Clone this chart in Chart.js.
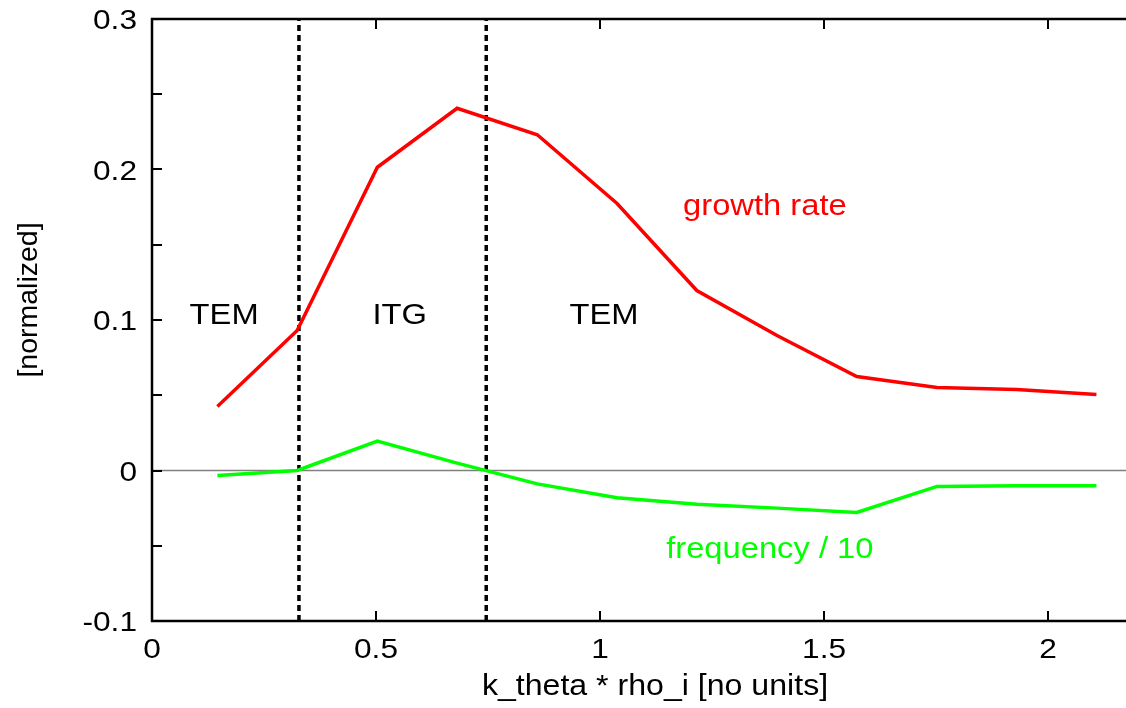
<!DOCTYPE html>
<html lang="en">
<head>
<meta charset="UTF-8">
<title>Growth rate and frequency vs k_theta * rho_i</title>
<script src="https://cdn.jsdelivr.net/npm/chart.js"></script>
<style>
    html, body { margin: 0; padding: 0; background: #fff; overflow: hidden; }
    #wrap { position: relative; width: 1126px; height: 708px; }
</style>
</head>
<body>
<div id="wrap"><canvas id="spectrum" width="1126" height="708"></canvas></div>
<script>
// k_theta * rho_i scan
const kRho = [0.146, 0.324, 0.503, 0.681, 0.860, 1.038, 1.216, 1.395, 1.573, 1.752, 1.930, 2.108];
const growthRate = [0.0425, 0.0930, 0.2015, 0.2407, 0.2231, 0.1774, 0.1196, 0.0897, 0.0625, 0.0551, 0.0538, 0.0505];
const frequency10 = [-0.0033, 0.0000, 0.0195, 0.0049, -0.0089, -0.0181, -0.0224, -0.0250, -0.0279, -0.0106, -0.0102, -0.0102];

// regime boundaries
const boundaries = [0.328, 0.746];

// axis ticks
const xTickValues = [0, 0.5, 1, 1.5, 2];
const xTickLabels = ['0', '0.5', '1', '1.5', '2'];
const yTickValues = [-0.1, 0, 0.1, 0.2, 0.3];
const yTickLabels = ['-0.1', '0', '0.1', '0.2', '0.3'];
const yMinorStep = 0.05;

// text placed in data coordinates (y is the baseline)
const regionLabels = [
    { text: 'TEM', x: 0.161, y: 0.0976, color: '#000' },
    { text: 'ITG', x: 0.553, y: 0.0976, color: '#000' },
    { text: 'TEM', x: 1.009, y: 0.0976, color: '#000' },
    { text: 'growth rate', x: 1.368, y: 0.1695, color: '#ff0000' },
    { text: 'frequency / 10', x: 1.379, y: -0.0580, color: '#00ff00' }
];

const FONT = '"Liberation Sans", Arial, sans-serif';
const TEXT_STRETCH = 1.09;
const TICK_STRETCH = 1.13;

const toPoints = (xs, ys) => xs.map((x, i) => ({ x: x, y: ys[i] }));

const boundarySets = boundaries.map(b => ({
    data: [{ x: b, y: -0.1 }, { x: b, y: 0.3 }],
    borderColor: '#000',
    borderWidth: 3.5,
    borderDash: [6, 4],
    pointRadius: 0
}));

// text slightly widened, like the original postscript fonts
function wideText(ctx, text, x, y, sx, align) {
    ctx.save();
    ctx.translate(x, y);
    ctx.scale(sx, 1);
    ctx.textAlign = align;
    ctx.fillText(text, 0, 0);
    ctx.restore();
}

// zero line, frame, inward ticks, labels
const decor = {
    id: 'decor',
    beforeDatasetsDraw(chart) {
        const { ctx, chartArea: a, scales: { y } } = chart;
        const y0 = y.getPixelForValue(0);
        ctx.save();
        ctx.strokeStyle = '#808080';
        ctx.lineWidth = 1.5;
        ctx.beginPath();
        ctx.moveTo(a.left, y0);
        ctx.lineTo(a.right, y0);
        ctx.stroke();
        ctx.restore();
    },
    afterDraw(chart) {
        const { ctx, chartArea: a, scales: { x, y } } = chart;
        ctx.save();
        ctx.strokeStyle = '#000';
        ctx.lineWidth = 2.5;
        ctx.beginPath();
        ctx.moveTo(a.right, a.top);
        ctx.lineTo(a.left, a.top);
        ctx.lineTo(a.left, a.bottom);
        ctx.lineTo(a.right, a.bottom);
        ctx.stroke();
        ctx.lineWidth = 2;
        ctx.beginPath();
        // left ticks every 0.05
        for (let v = -0.1; v <= 0.3001; v += yMinorStep) {
            const py = Math.round(y.getPixelForValue(v));
            ctx.moveTo(a.left, py);
            ctx.lineTo(a.left + 10, py);
        }
        // bottom and top ticks
        xTickValues.forEach(v => {
            if (v === 0) return;
            const px = Math.round(x.getPixelForValue(v));
            ctx.moveTo(px, a.bottom);
            ctx.lineTo(px, a.bottom - 10);
            ctx.moveTo(px, a.top);
            ctx.lineTo(px, a.top + 10);
        });
        ctx.stroke();

        ctx.textBaseline = 'alphabetic';
        ctx.fillStyle = '#000';
        ctx.font = '28px ' + FONT;
        xTickValues.forEach((v, i) => {
            wideText(ctx, xTickLabels[i], x.getPixelForValue(v), a.bottom + 37, TICK_STRETCH, 'center');
        });
        yTickValues.forEach((v, i) => {
            wideText(ctx, yTickLabels[i], a.left - 15, y.getPixelForValue(v) + 10, TICK_STRETCH, 'right');
        });

        ctx.font = '30px ' + FONT;
        regionLabels.forEach(l => {
            ctx.fillStyle = l.color;
            wideText(ctx, l.text, x.getPixelForValue(l.x), y.getPixelForValue(l.y), TEXT_STRETCH, 'center');
        });

        // axis titles
        ctx.fillStyle = '#000';
        wideText(ctx, 'k_theta * rho_i [no units]', 655, 695, TEXT_STRETCH - 0.02, 'center');
        ctx.font = '28.5px ' + FONT;
        ctx.translate(37, 300);
        ctx.rotate(-Math.PI / 2);
        ctx.textAlign = 'center';
        ctx.fillText('[normalized]', 0, 0);
        ctx.restore();
    }
};

new Chart(document.getElementById('spectrum'), {
    type: 'line',
    data: {
        datasets: [
            {
                data: toPoints(kRho, growthRate),
                borderColor: '#ff0000',
                borderWidth: 3.5,
                pointRadius: 0
            },
            {
                data: toPoints(kRho, frequency10),
                borderColor: '#00ff00',
                borderWidth: 3.5,
                pointRadius: 0
            },
            ...boundarySets
        ]
    },
    options: {
        responsive: false,
        animation: false,
        devicePixelRatio: 1,
        layout: { padding: { top: 19, right: 0, left: 0, bottom: 0 } },
        plugins: { legend: { display: false }, tooltip: { enabled: false } },
        elements: { line: { tension: 0 } },
        scales: {
            x: {
                type: 'linear',
                min: 0,
                max: 2.174,
                grid: { display: false },
                border: { display: false },
                ticks: { display: false },
                afterFit: s => { s.height = 87; }
            },
            y: {
                type: 'linear',
                min: -0.1,
                max: 0.3,
                grid: { display: false },
                border: { display: false },
                ticks: { display: false },
                afterFit: s => { s.width = 152; }
            }
        }
    },
    plugins: [decor]
});
</script>
</body>
</html>
